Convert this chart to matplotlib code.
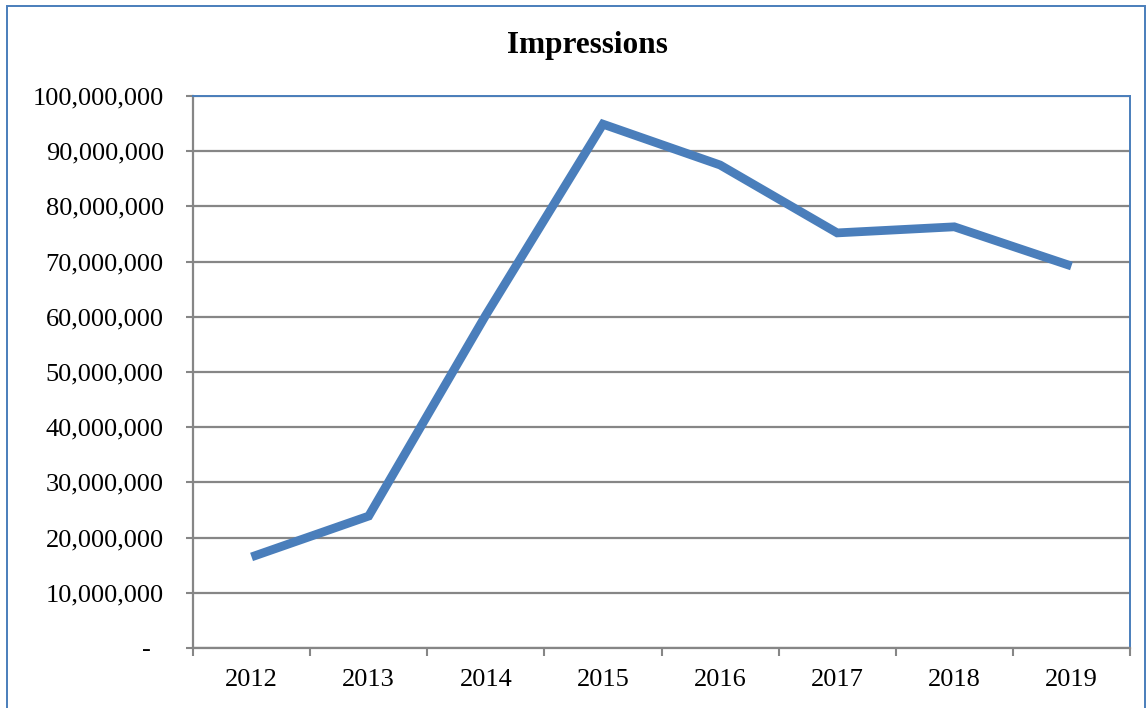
import matplotlib
matplotlib.use("Agg")
import matplotlib.pyplot as plt
from matplotlib.ticker import FuncFormatter, MultipleLocator
from matplotlib.patches import Rectangle

years = ["2012", "2013", "2014", "2015", "2016", "2017", "2018", "2019"]
impressions = [16500000, 23900000, 60300000, 94900000, 87500000, 75200000, 76300000, 69200000]
title = "Impressions"

W, H = 1147, 708
fig = plt.figure(figsize=(W / 100, H / 100), dpi=100)
plt.rcParams['font.family'] = ['Liberation Serif', 'DejaVu Serif']

ax = fig.add_axes([193 / W, 1 - 648 / H, (1130 - 193) / W, (648 - 96) / H])
x = list(range(len(years)))
ax.plot(x, impressions, color="#4A7EBB", lw=6.3, solid_joinstyle="miter", solid_capstyle="butt", zorder=3)

ax.set_xlim(-0.5, len(years) - 0.5)
ax.set_ylim(0, 100000000)
ax.yaxis.set_major_locator(MultipleLocator(10000000))

def yfmt(v, pos):
    if abs(v) < 1:
        return "-  "
    return f"{int(round(v)):,}"
ax.yaxis.set_major_formatter(FuncFormatter(yfmt))
ax.grid(axis="y", color="#868686", lw=1.6, zorder=1)
ax.set_axisbelow(True)

ax.set_xticks(x)
ax.set_xticklabels(years)
ax.set_xticks([i - 0.5 for i in range(len(years) + 1)], minor=True)
ax.tick_params(axis="x", which="major", length=0, pad=15, labelsize=19)
ax.tick_params(axis="x", which="minor", length=6, width=1.5, color="#868686", direction="out")
ax.tick_params(axis="y", length=5, width=1.5, color="#868686", direction="out", pad=16, labelsize=19)

for s in ["left", "bottom"]:
    ax.spines[s].set_color("#868686")
    ax.spines[s].set_linewidth(1.6)
for s in ["top", "right"]:
    ax.spines[s].set_color("#4A7EBB")
    ax.spines[s].set_linewidth(1.4)

fig.text(587 / W, 1 - 46 / H, title, ha="center", va="center", fontsize=22.5, fontweight="bold")

fig.patches.append(Rectangle((7 / W, -0.01), (1145 - 7) / W, 1 - 6 / H + 0.01,
                             transform=fig.transFigure, fill=False, edgecolor="#4A7EBB", lw=1.4))

fig.savefig("out.png", dpi=100)
